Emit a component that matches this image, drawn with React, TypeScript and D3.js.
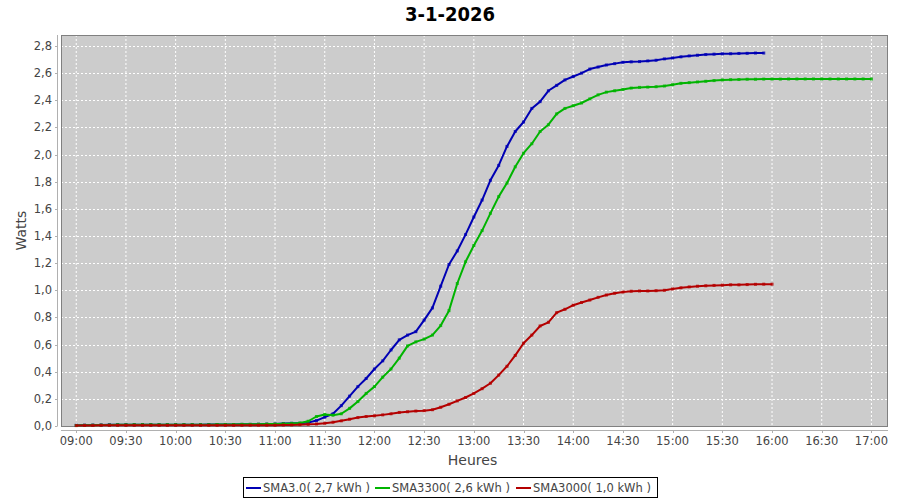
import React from "react";
import * as d3 from "d3";

const TITLE = "3-1-2026";
const X_LABEL = "Heures";
const Y_LABEL = "Watts";
const START_MIN = 0; // 09:00
const STEP_MIN = 5;

const xTickLabels = ["09:00","09:30","10:00","10:30","11:00","11:30","12:00","12:30","13:00","13:30","14:00","14:30","15:00","15:30","16:00","16:30","17:00"];
const yTickValues = [0, 0.2, 0.4, 0.6, 0.8, 1.0, 1.2, 1.4, 1.6, 1.8, 2.0, 2.2, 2.4, 2.6, 2.8];

const seriesNames = ["SMA3.0( 2,7 kWh )", "SMA3300( 2,6 kWh )", "SMA3000( 1,0 kWh )"];
const seriesColors = ["#0000b4", "#00b400", "#b40000"];

const blueValues = [
  0.005,0.006,0.007,0.008,0.009,0.01,0.01,0.01,0.01,0.01,0.01,0.01,0.01,0.01,0.01,0.01,0.011,0.011,0.011,0.011,0.012,0.012,0.013,0.014,
  0.015,0.018,0.02,0.02,0.025,0.04,0.065,0.09,0.15,0.22,0.29,0.35,0.42,0.48,0.56,0.635,0.67,0.695,0.78,0.87,1.03,1.19,1.29,1.41,1.54,1.665,
  1.81,1.92,2.06,2.17,2.24,2.34,2.39,2.47,2.51,2.55,2.575,2.6,2.63,2.645,2.66,2.67,2.68,2.683,2.685,2.69,2.695,2.705,2.712,2.72,2.727,2.732,
  2.737,2.74,2.742,2.743,2.745,2.746,2.748,2.748
];
const greenValues = [
  0.004,0.005,0.006,0.007,0.008,0.009,0.009,0.01,0.01,0.01,0.01,0.01,0.01,0.01,0.01,0.01,0.01,0.011,0.011,0.011,0.012,0.012,0.013,0.014,
  0.015,0.017,0.019,0.022,0.035,0.07,0.085,0.08,0.09,0.13,0.18,0.24,0.29,0.36,0.42,0.5,0.59,0.62,0.64,0.67,0.74,0.85,1.05,1.21,1.33,1.44,
  1.567,1.69,1.79,1.91,2.01,2.08,2.17,2.22,2.3,2.34,2.36,2.38,2.41,2.44,2.46,2.47,2.48,2.49,2.495,2.497,2.5,2.505,2.515,2.525,2.53,2.535,
  2.54,2.545,2.55,2.552,2.553,2.555,
  2.555,2.556,2.556,2.556,2.557,2.557,2.557,2.557,2.557,2.557,2.557,2.557,2.557,2.557,2.557
];
const redValues = [
  0.003,0.004,0.004,0.005,0.005,0.005,0.005,0.005,0.005,0.005,0.005,0.005,0.005,0.005,0.005,0.005,0.005,0.005,0.005,0.005,0.005,0.006,0.006,0.006,
  0.006,0.007,0.008,0.01,0.012,0.015,0.02,0.028,0.038,0.05,0.062,0.07,0.075,0.082,0.09,0.1,0.105,0.11,0.113,0.12,0.138,0.16,0.185,0.21,0.24,
  0.275,0.315,0.375,0.44,0.52,0.61,0.67,0.737,0.764,0.835,0.86,0.89,0.91,0.928,0.948,0.965,0.978,0.987,0.993,0.995,0.995,0.997,1.0,1.01,
  1.018,1.025,1.03,1.033,1.036,1.038,1.04,1.04,1.042,1.044,1.045,1.045
];
const seriesValues = [blueValues, greenValues, redValues];

const toMin = (s: string) => {
  const [h, m] = s.split(":").map(Number);
  return (h - 9) * 60 + m;
};

const FONT = "'DejaVu Sans', sans-serif";

export default function App() {
  const W = 900, H = 500;
  const L = 61, R = 888, T = 35, B = 426;
  const x = d3.scaleLinear().domain([-9.2, 490]).range([L, R]);
  const y = d3.scaleLinear().domain([0, 2.881]).range([B, T]);
  const fmt = (v: number) => d3.format(".1f")(v).replace(".", ",");

  const series = seriesValues.map((vals) =>
    vals.map((v, i) => ({ t: START_MIN + i * STEP_MIN, v }))
  );
  const line = d3.line<{ t: number; v: number }>().x((d) => x(d.t)).y((d) => y(d.v));

  const legendX = [246, 375, 516];

  return (
    <svg width={W} height={H} style={{ position: "absolute", left: 0, top: 0 }} fontFamily={FONT}>
      <rect x={0} y={0} width={W} height={H} fill="#ffffff" />
      <text x={450} y={21} textAnchor="middle" fontSize={20} fontWeight="bold" fontFamily="'DejaVu Sans Condensed', 'DejaVu Sans', sans-serif" style={{ fontStretch: "condensed" }} fill="#000">{TITLE}</text>

      <rect x={L} y={T} width={R - L} height={B - T} fill="#cccccc" />
      {xTickLabels.map((lab) => (
        <line key={"gx" + lab} x1={x(toMin(lab))} x2={x(toMin(lab))} y1={T} y2={B} stroke="#ffffff" strokeWidth={1} strokeDasharray="2,2" />
      ))}
      {yTickValues.map((v) => (
        <line key={"gy" + v} x1={L} x2={R} y1={Math.round(y(v)) + 0.5} y2={Math.round(y(v)) + 0.5} stroke="#ffffff" strokeWidth={1} strokeDasharray="2,2" />
      ))}
      <rect x={L + 0.5} y={T + 0.5} width={R - L - 1} height={B - T} fill="none" stroke="#808080" strokeWidth={1} />

      {series.map((s, k) => (
        <g key={"s" + k}>
          <path d={line(s) || ""} fill="none" stroke={seriesColors[k]} strokeWidth={2} strokeLinejoin="round" />
          {s.map((d, i) => (
            <rect key={i} x={x(d.t) - 1.5} y={y(d.v) - 1.5} width={3} height={3} fill={seriesColors[k]} opacity={0.8} />
          ))}
        </g>
      ))}

      {/* Y axis */}
      <line x1={57.5} x2={57.5} y1={T} y2={B} stroke="#b0b0b0" />
      {yTickValues.map((v) => (
        <g key={"yt" + v}>
          <line x1={55} x2={57.5} y1={Math.round(y(v)) + 0.5} y2={Math.round(y(v)) + 0.5} stroke="#b0b0b0" />
          <text x={52} y={y(v) + 4} textAnchor="end" fontSize={11.5} fill="#444">{fmt(v)}</text>
        </g>
      ))}
      <text transform={`translate(26,${(T + B) / 2}) rotate(-90)`} textAnchor="middle" fontSize={14} fill="#444">{Y_LABEL}</text>

      {/* X axis */}
      <line x1={L} x2={R} y1={430.5} y2={430.5} stroke="#b0b0b0" />
      {xTickLabels.map((lab) => (
        <g key={"xt" + lab}>
          <line x1={Math.round(x(toMin(lab))) + 0.5} x2={Math.round(x(toMin(lab))) + 0.5} y1={430.5} y2={433} stroke="#b0b0b0" />
          <text x={x(toMin(lab))} y={445} textAnchor="middle" fontSize={11.5} fill="#444">{lab}</text>
        </g>
      ))}
      <text x={(L + R) / 2 - 2} y={465} textAnchor="middle" fontSize={14} fill="#444">{X_LABEL}</text>

      {/* Legend */}
      <rect x={243.5} y={477.5} width={414} height={20} fill="#fff" stroke="#000" />
      {seriesNames.map((n, k) => (
        <g key={"lg" + k}>
          <line x1={legendX[k]} x2={legendX[k] + 15} y1={488} y2={488} stroke={seriesColors[k]} strokeWidth={2} />
          <text x={legendX[k] + 17} y={492} fontSize={11.5} fill="#444">{n}</text>
        </g>
      ))}
    </svg>
  );
}
